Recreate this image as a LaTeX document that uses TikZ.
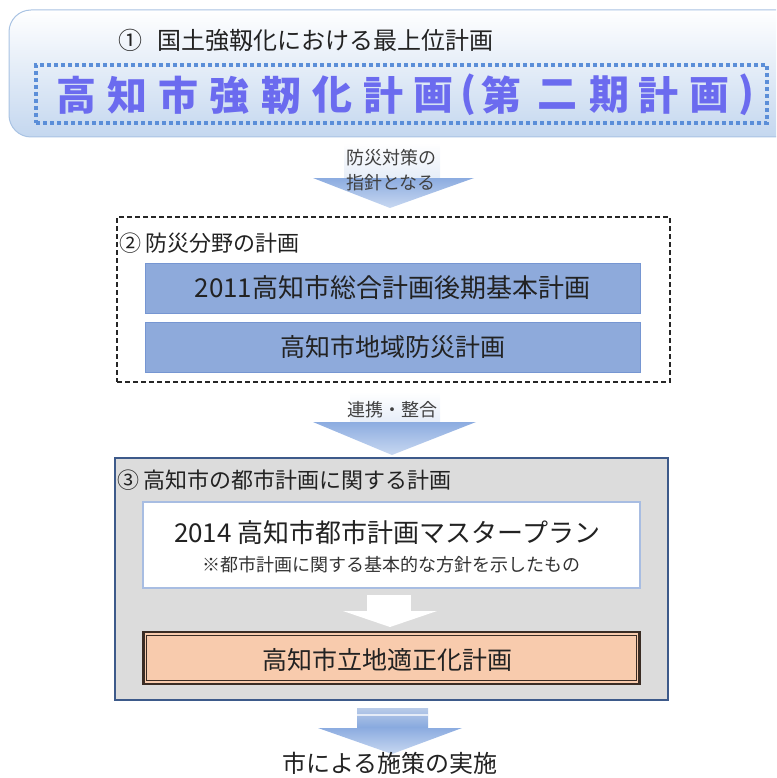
\documentclass[tikz,border=0pt]{standalone}
\usepackage{fontspec}
\setmainfont{Noto Sans CJK JP}
\usetikzlibrary{calc}
\definecolor{topfill}{HTML}{C4D7EF}
\definecolor{topline}{HTML}{A9C3E3}
\definecolor{dotc}{HTML}{5B8ED8}
\definecolor{titlec}{HTML}{6B6BEF}
\definecolor{txt}{HTML}{222222}
\definecolor{arrA}{HTML}{8CACE0}
\definecolor{arrB}{HTML}{C8D8F1}
\definecolor{shaftB}{HTML}{E6EDF8}
\definecolor{shaftC}{HTML}{B9CBE8}
\definecolor{shaftD}{HTML}{86A8DE}
\definecolor{bluefill}{HTML}{8EAADB}
\definecolor{blueline}{HTML}{7696D2}
\definecolor{grayfill}{HTML}{DCDCDC}
\definecolor{navy}{HTML}{3D5A8A}
\definecolor{wline}{HTML}{A8BDE2}
\definecolor{peach}{HTML}{F8CBAD}
\definecolor{brownline}{HTML}{3A2C24}
\tikzset{
  lbl/.style={inner sep=0pt, outer sep=0pt, text=txt},
  bluebox/.style={fill=bluefill, draw=blueline, line width=1pt, minimum width=495pt, minimum height=50pt, inner sep=0pt, text=txt, font=\fontsize{26}{26}\selectfont},
  tch/.style={inner sep=0pt, text=titlec, font=\fontsize{40}{40}\selectfont\bfseries},
}
\begin{document}
\begin{tikzpicture}[x=1pt,y=-1pt]
\useasboundingbox (0,0) rectangle (776,778);
\begin{scope}
\clip (0,0) rectangle (776,778);
\shade[top color=white, bottom color=topfill, draw=topline, line width=1pt, rounded corners=22pt] (9,10) rectangle (800,137);
\end{scope}
\node[lbl, anchor=west, font=\fontsize{24}{24}\selectfont] (t1) at (118,40) {①\hspace{16pt}国土強靱化における最上位計画};
\node[draw=dotc, line width=4pt, dash pattern=on 4pt off 3pt, minimum width=731pt, minimum height=58pt, inner sep=0pt] (title) at (401.5,94) {};
\foreach \c/\x in {高/76,知/127,市/178,強/229,靭/281,化/332,計/383,画/433,{(}/468,第/501,二/557,期/609,計/658,画/709,{)}/746}{
  \node[tch] at (\x,95) {\c};
}
% arrow 1
\shade[top color=white, bottom color=shaftB] (344,143) rectangle (440,178);
\shade[top color=arrA, bottom color=arrB] (313,178) -- (474,178) -- (390,208) -- cycle;
\node[lbl, text=black!75, font=\fontsize{18}{18}\selectfont] (a1a) at (391,158) {防災対策の};
\node[lbl, text=black!75, font=\fontsize{18}{18}\selectfont] (a1b) at (391,183) {指針となる};
% box 2
\node[draw=black!85, line width=1.5pt, dash pattern=on 5pt off 3pt, minimum width=553pt, minimum height=165pt, inner sep=0pt] (b2) at (393.5,299.5) {};
\node[lbl, anchor=west, font=\fontsize{22}{22}\selectfont] (b2l) at (119,243) {②\hspace{5pt}防災分野の計画};
\node[bluebox] (p1) at (392.5,288) {2011高知市総合計画後期基本計画};
\node[bluebox, font=\fontsize{25}{25}\selectfont] (p2) at (392.5,347) {高知市地域防災計画};
% arrow 2
\shade[top color=white, bottom color=shaftB] (350,392) rectangle (440,422);
\shade[top color=arrA, bottom color=arrB] (313,422) -- (476,422) -- (392,455) -- cycle;
\node[lbl, text=black!75, font=\fontsize{18}{18}\selectfont] (a2) at (392,410) {連携・整合};
% box 3
\node[fill=grayfill, draw=navy, line width=2.5pt, minimum width=553pt, minimum height=242pt, inner sep=0pt] (b3) at (391.5,579) {};
\node[lbl, anchor=west, font=\fontsize{22}{22}\selectfont] (b3l) at (117,480) {③\hspace{5pt}高知市の都市計画に関する計画};
\node[fill=white, draw=wline, line width=1.5pt, minimum width=497pt, minimum height=86pt, inner sep=0pt] (mp) at (391.5,545) {};
\node[lbl, font=\fontsize{26}{26}\selectfont] (mp1) at (387,533) {2014 高知市都市計画マスタープラン};
\node[lbl, font=\fontsize{18}{18}\selectfont, text=black!80] (mp2) at (391,565) {※都市計画に関する基本的な方針を示したもの};
\fill[white] (367,595) rectangle (411,611);
\fill[white] (343,611) -- (437,611) -- (390,627) -- cycle;
\node[fill=peach, draw=brownline, line width=2.5pt, minimum width=496pt, minimum height=52pt, inner sep=0pt] (ro) at (391.5,658) {};
\draw[brownline, line width=1pt] ($(ro.north west)+(4.5,4.5)$) rectangle ($(ro.south east)+(-4.5,-4.5)$);
\node[lbl, font=\fontsize{25}{25}\selectfont] (rot) at (387,660) {高知市立地適正化計画};
% arrow 3
\shade[top color=shaftC, bottom color=shaftD] (357,708) rectangle (428,728);
\fill[white, opacity=0.7] (357,714) rectangle (428,716);
\shade[top color=arrA, bottom color=arrB] (318,728) -- (462,728) -- (392,754) -- cycle;
\node[lbl, font=\fontsize{24}{24}\selectfont] (res) at (390,763) {市による施策の実施};
\end{tikzpicture}
\end{document}
